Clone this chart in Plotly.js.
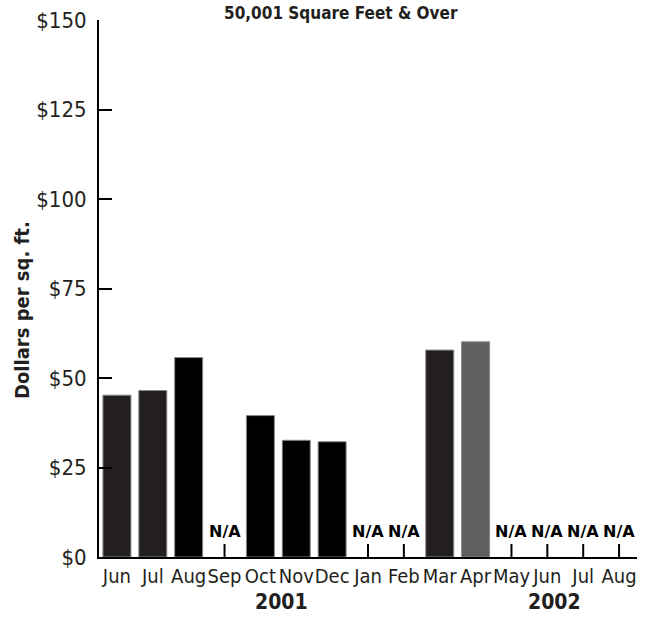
<!DOCTYPE html>
<html>
<head>
<meta charset="utf-8">
<script src="https://cdn.plot.ly/plotly-3.0.1.min.js"></script>
<style>html,body{margin:0;padding:0;background:#fff;}</style>
</head>
<body>
<div id="chart" style="width:662px;height:617px;"></div>
<script>
var months = ['Jun','Jul','Aug','Sep','Oct','Nov','Dec','Jan','Feb','Mar','Apr','May','Jun','Jul','Aug'];
var values = [45.2, 46.5, 55.7, null, 39.5, 32.6, 32.2, null, null, 57.8, 60.1, null, null, null, null];
var barColors = ['#231f20','#231f20','#000000','#000000','#000000','#000000','#000000','#000000','#000000','#231f20','#5f5f5f','#000000','#000000','#000000','#000000'];
var yTickVals = [0, 25, 50, 75, 100, 125, 150];
var yTickText = ['$0','$25','$50','$75','$100','$125','$150'];
var years = ['2001', '2002'];
var yearPos = [4.58, 12.2];
var naText = 'N/A';

var idx = months.map(function(m, i){ return i; });
var cond = '"DejaVu Sans Condensed", "Liberation Sans Narrow", sans-serif';

var annotations = [];
var shapes = [];
values.forEach(function(v, i){
  if (v === null) {
    annotations.push({x: i, y: 0, xref: 'x', yref: 'y', text: naText, showarrow: false,
      yanchor: 'bottom', yshift: 14,
      font: {family: '"DejaVu Sans", sans-serif', size: 16, color: '#000', weight: 'bold'}});
    shapes.push({type: 'line', xref: 'x', yref: 'y', x0: i, x1: i, ysizemode: 'pixel', yanchor: 0,
      y0: 0, y1: 13, line: {color: '#000', width: 2}});
  }
});
years.forEach(function(t, k){
  annotations.push({x: yearPos[k], y: 0, xref: 'x', yref: 'paper', text: t, showarrow: false,
    yanchor: 'bottom', yshift: -59,
    font: {family: cond, size: 21, color: '#231f20', weight: 'bold'}});
});
annotations.push({x: 0, xref: 'paper', xanchor: 'center', xshift: -77, y: 0.46, yref: 'paper',
  text: 'Dollars per sq. ft.', textangle: -90, showarrow: false,
  font: {family: cond, size: 20, color: '#231f20', weight: 'bold'}});
annotations.push({x: 0.45, xref: 'paper', xanchor: 'center', y: 1, yref: 'paper', yanchor: 'bottom', yshift: -5,
  text: '50,001 Square Feet &amp; Over', showarrow: false,
  font: {family: cond, size: 17, color: '#231f20', weight: 'bold'}});

var trace = {
  type: 'bar', x: idx, y: values,
  marker: {color: barColors, line: {color: '#888', width: 1}},
  hoverinfo: 'skip'
};

var layout = {
  width: 662, height: 617,
  margin: {l: 99, r: 25, t: 20, b: 60, pad: 0},
  paper_bgcolor: '#fff', plot_bgcolor: '#fff',
  showlegend: false,
  bargap: 0.22,
  xaxis: {
    range: [-0.5, 14.5], tickvals: idx, ticktext: months, ticks: '', tickangle: 0,
    showline: true, linecolor: '#000', linewidth: 2, showgrid: false, zeroline: false,
    tickfont: {family: cond, size: 20, color: '#231f20'}, fixedrange: true
  },
  yaxis: {
    range: [0, 150], tickvals: yTickVals, ticktext: yTickText, ticks: 'inside',
    ticklen: 13, tickwidth: 2, tickcolor: '#000',
    showline: true, linecolor: '#000', linewidth: 2, showgrid: false, zeroline: false,
    ticklabelstandoff: 6,
    tickfont: {family: cond, size: 22, color: '#231f20'}, fixedrange: true
  },
  annotations: annotations,
  shapes: shapes
};

Plotly.newPlot('chart', [trace], layout, {displayModeBar: false, staticPlot: true});
</script>
</body>
</html>
